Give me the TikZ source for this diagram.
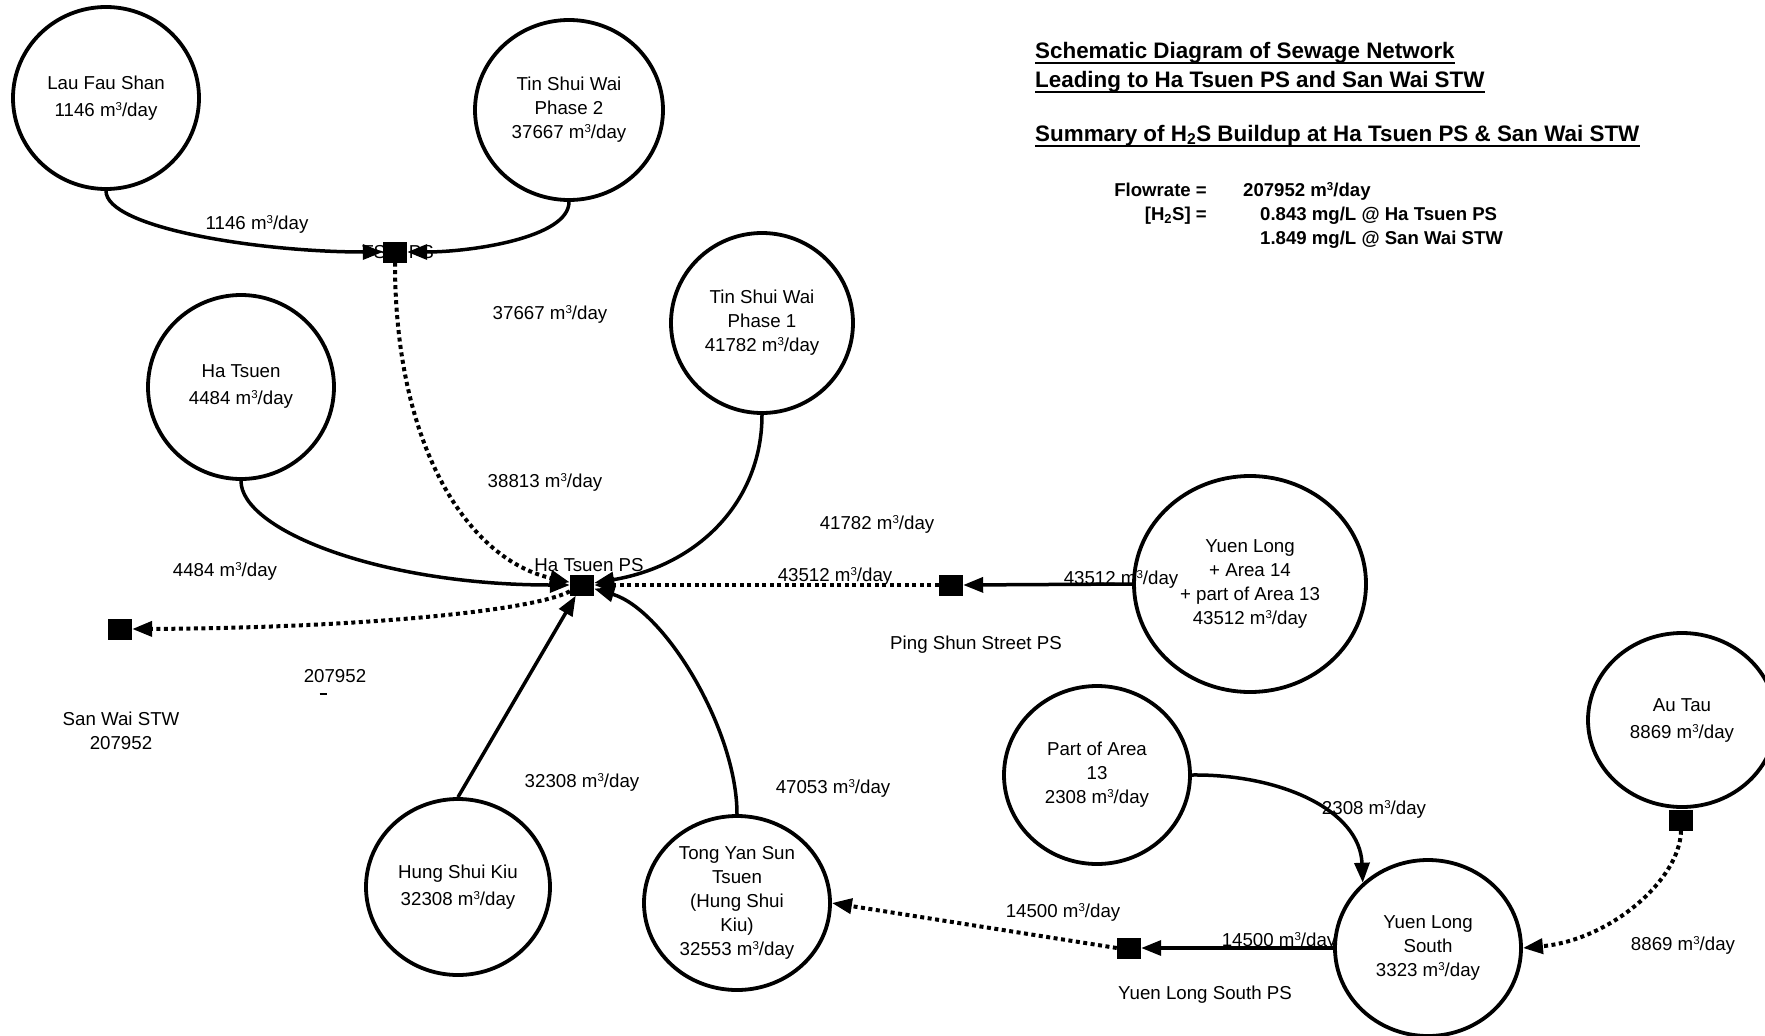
\documentclass[tikz,border=0pt]{standalone}
\usepackage{fontspec}
\setmainfont{Liberation Sans}
\usetikzlibrary{arrows.meta,shapes.geometric}
\newcommand{\mcu}{m\raisebox{6pt}{\fontsize{11.5}{11.5}\selectfont 3}/day}
\begin{document}
\begin{tikzpicture}[x=1pt,y=-1pt,
  every node/.style={font=\fontsize{18.7}{24}\selectfont, inner sep=0pt, align=center},
  area/.style={draw, ellipse, line width=3.8pt, execute at begin node={\rule{0pt}{21pt}}},
  station/.style={fill=black, rectangle, minimum width=24pt, minimum height=21pt, inner sep=0pt},
  pipe/.style={line width=3.5pt, -{Triangle[length=20pt,width=15pt]}},
  dotpipe/.style={pipe, line width=4pt, dash pattern=on 4pt off 3.5pt},
  title/.style={font=\fontsize{22.4}{27}\selectfont\bfseries, anchor=base west},
  summ/.style={font=\fontsize{18.6}{24}\selectfont\bfseries}
]
\useasboundingbox[fill=white] (0,0) rectangle (1765,1036);

% areas
\node[area, minimum width=186pt, minimum height=182pt] (lfs) at (106,98) {Lau Fau Shan\\[3pt]1146 \mcu};
\node[area, minimum width=188pt, minimum height=180pt] (tsw2) at (569,110) {Tin Shui Wai\\Phase 2\\37667 \mcu};
\node[area, minimum width=182pt, minimum height=180pt] (tsw1) at (762,323) {Tin Shui Wai\\Phase 1\\41782 \mcu};
\node[area, minimum width=186pt, minimum height=184pt] (ht) at (241,387) {Ha Tsuen\\[3pt]4484 \mcu};
\node[area, minimum width=232pt, minimum height=216pt] (yl14) at (1250,584) {Yuen Long\\+ Area 14\\+ part of Area 13\\43512 \mcu};
\node[area, minimum width=186pt, minimum height=178pt] (pa13) at (1097,775) {Part of Area\\13\\2308 \mcu};
\node[area, minimum width=188pt, minimum height=174pt] (autau) at (1682,720) {Au Tau\\[3pt]8869 \mcu};
\node[area, minimum width=186pt, minimum height=176pt] (yls) at (1428,948) {Yuen Long\\South\\3323 \mcu};
\node[area, minimum width=186pt, minimum height=174pt] (tys) at (737,903) {Tong Yan Sun\\Tsuen\\(Hung Shui\\Kiu)\\32553 \mcu};
\node[area, minimum width=184pt, minimum height=176pt] (hsk) at (458,887) {Hung Shui Kiu\\[3pt]32308 \mcu};

% labels
\node (ltswps) at (398,252) {TSW PS};
\node (l1146) at (257,224) {1146 \mcu};
\node (l37667) at (550,314) {37667 \mcu};
\node (l38813) at (545,482) {38813 \mcu};
\node (l41782) at (877,524) {41782 \mcu};
\node (l4484) at (225,571) {4484 \mcu};
\node (lhtps) at (589,565) {Ha Tsuen PS};
\node (l43512a) at (835,576) {43512 \mcu};
\node (l43512b) at (1121,579) {43512 \mcu};
\node (lpsps) at (976,645) {Ping Shun Street PS};
\node (l207952) at (335,676) {207952};
\node (ldash) at (323,694) {\rule{7pt}{1.6pt}};
\node (lsw) at (121,731) {San Wai STW\\207952};
\node (l32308) at (582,782) {32308 \mcu};
\node (l47053) at (833,788) {47053 \mcu};
\node (l2308) at (1374,809) {2308 \mcu};
\node (l14500a) at (1063,912) {14500 \mcu};
\node (l14500b) at (1279,941) {14500 \mcu};
\node (lylsps) at (1205,995) {Yuen Long South PS};
\node (l8869) at (1683,945) {8869 \mcu};

% stations
\node[station] (tswps) at (395,252) {};
\node[station] (htps) at (582,585) {};
\node[station] (psps) at (951,585) {};
\node[station] (sw) at (120,629) {};
\node[station] (ylsps) at (1129,948) {};
\node[station] (ausq) at (1681,820) {};

% connectors
\draw[pipe] (lfs.south) .. controls (106,228) and (260,252) .. (tswps.west);
\draw[pipe] (tsw2.south) .. controls (569,238) and (470,252) .. (tswps.east);
\draw[dotpipe] (tswps.south) .. controls (395,450) and (470,560) .. (htps);
\draw[pipe] (ht.south) .. controls (241,530) and (380,585) .. (htps.west);
\draw[pipe] (tsw1.south) .. controls (762,500) and (700,565) .. (htps);
\draw[dotpipe] (psps.west) -- (htps.east);
\draw[pipe] (yl14.west) -- (psps.east);
\draw[dotpipe] (htps) .. controls (530,612) and (350,628) .. (sw.east);
\draw[pipe] (hsk.north) -- (htps);
\draw[pipe] (tys.north) .. controls (737,730) and (665,610) .. (htps);
\draw[pipe] (pa13.east) .. controls (1280,774) and (1360,810) .. (yls.135);
\draw[dotpipe] (ausq.south) .. controls (1680,880) and (1610,940) .. (yls.east);
\draw[pipe] (yls.west) -- (ylsps.east);
\draw[dotpipe] (ylsps.west) -- (tys.east);

% title block
\node[title] (t1) at (1035,58) {Schematic Diagram of Sewage Network};
\node[title] (t2) at (1035,87) {Leading to Ha Tsuen PS and San Wai STW};
\node[title] (t3) at (1035,141) {Summary of H\textsubscript{2}S Buildup at Ha Tsuen PS \& San Wai STW};
\foreach \t in {t1,t2,t3}
  \draw[line width=2pt] ([yshift=-4.5pt]\t.base west) -- ([yshift=-4.5pt]\t.base east);
\node[summ, anchor=base east] (s1) at (1207,196) {Flowrate =};
\node[summ, anchor=base west] (s2) at (1243,196) {207952 \mcu};
\node[summ, anchor=base east] (s3) at (1207,220) {[H\textsubscript{2}S] =};
\node[summ, anchor=base west] (s4) at (1260,220) {0.843 mg/L @ Ha Tsuen PS};
\node[summ, anchor=base west] (s5) at (1260,244) {1.849 mg/L @ San Wai STW};
\end{tikzpicture}
\end{document}
